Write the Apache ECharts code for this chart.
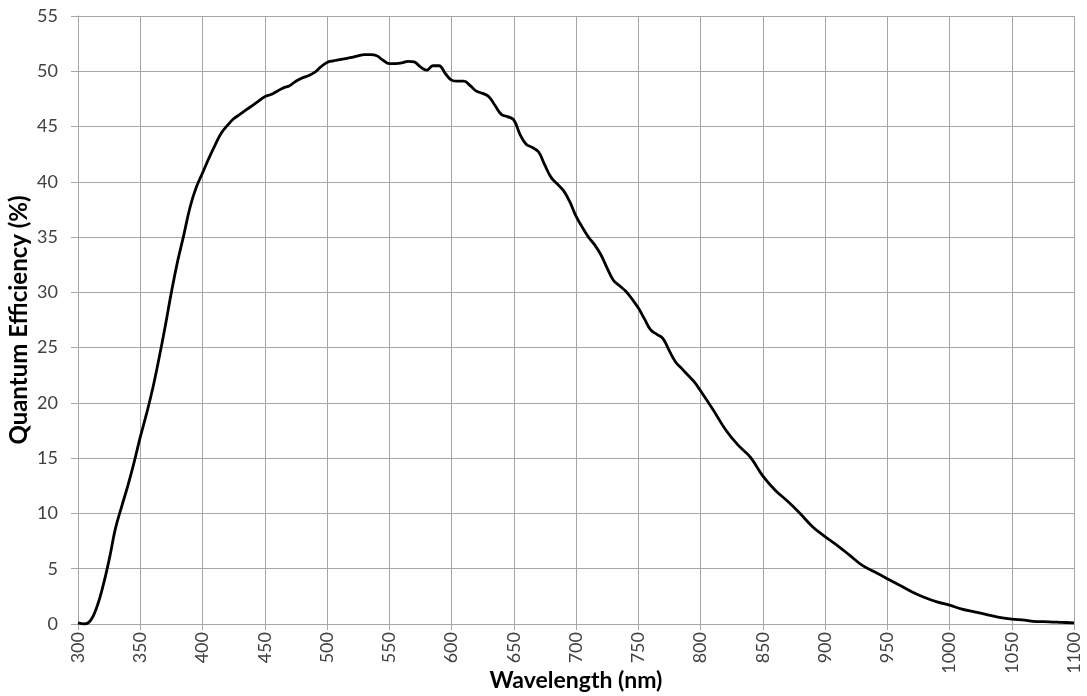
<!DOCTYPE html>
<html>
<head>
<meta charset="utf-8">
<script src="https://cdn.jsdelivr.net/npm/echarts@6/dist/echarts.min.js"></script>
<style>
  html, body { margin: 0; padding: 0; background: #fff; }
  #chart { width: 1087px; height: 696px; }
</style>
</head>
<body>
<div id="chart"></div>
<script>
// wavelength (nm) and quantum efficiency (%)
var wavelength = [
  300, 305, 310, 315, 320, 325, 330, 335, 340, 345, 350, 355, 360, 365, 370, 375, 380, 385, 390, 395,
  400, 405, 410, 415, 420, 425, 430, 435, 440, 445, 450, 455, 460, 465, 470, 475, 480, 485, 490, 495,
  500, 505, 510, 515, 520, 525, 530, 535, 540, 545, 550, 555, 560, 565, 570, 575, 580, 585, 590, 595,
  600, 605, 610, 615, 620, 625, 630, 635, 640, 645, 650, 655, 660, 665, 670, 675, 680, 685, 690, 695,
  700, 705, 710, 715, 720, 725, 730, 735, 740, 745, 750, 755, 760, 765, 770, 775, 780, 785, 790, 795,
  800, 810, 820, 830, 840, 850, 860, 870, 880, 890, 900, 910, 920, 930, 940, 950, 960, 970, 980, 990,
  1000, 1010, 1020, 1030, 1040, 1050, 1060, 1070, 1080, 1090, 1100
];
var efficiency = [
  0.1, 0.0, 0.3, 1.5, 3.4, 5.8, 8.6, 10.6, 12.5, 14.6, 16.9, 19.0, 21.3, 24.0, 26.9, 30.0, 32.8, 35.2, 37.7, 39.5,
  40.8, 42.1, 43.3, 44.4, 45.1, 45.7, 46.1, 46.5, 46.9, 47.3, 47.7, 47.9, 48.2, 48.5, 48.7, 49.1, 49.4, 49.6, 49.9, 50.4,
  50.8, 50.95, 51.05, 51.15, 51.25, 51.4, 51.5, 51.5, 51.4, 51.0, 50.7, 50.7, 50.75, 50.9, 50.85, 50.4, 50.1, 50.5, 50.5, 49.8,
  49.2, 49.1, 49.1, 48.7, 48.2, 48.0, 47.7, 46.9, 46.1, 45.9, 45.6, 44.3, 43.4, 43.1, 42.7, 41.5, 40.4, 39.8, 39.2, 38.2,
  36.9, 35.9, 35.0, 34.3, 33.4, 32.2, 31.1, 30.6, 30.1, 29.4, 28.6, 27.6, 26.6, 26.2, 25.8, 24.7, 23.7, 23.1, 22.5, 21.9,
  21.1, 19.4, 17.6, 16.2, 15.1, 13.4, 12.1, 11.1, 10.0, 8.8, 7.9, 7.1, 6.2, 5.3, 4.7, 4.1, 3.5, 2.9, 2.4, 2.0,
  1.7, 1.35, 1.1, 0.85, 0.6, 0.45, 0.35, 0.22, 0.2, 0.15, 0.1
];

var points = wavelength.map(function (w, i) { return [w, efficiency[i]]; });

var font = 'Lato, "Open Sans", sans-serif';
var gridColor = '#a6a6a6';

var chart = echarts.init(document.getElementById('chart'));
chart.setOption({
  animation: false,
  grid: { left: 78, right: 13, top: 16, bottom: 72, containLabel: false, outerBoundsMode: 'none' },
  xAxis: {
    type: 'value',
    min: 300,
    max: 1100,
    interval: 50,
    name: 'Wavelength (nm)',
    nameLocation: 'middle',
    nameGap: 45,
    nameMoveOverlap: false,
    nameTextStyle: { fontFamily: font, fontSize: 23, fontWeight: 'bold', color: '#000' },
    axisLine: { show: true, lineStyle: { color: gridColor, width: 1 } },
    axisTick: { show: true, length: 6, lineStyle: { color: gridColor } },
    axisLabel: {
      rotate: 90, fontFamily: font, fontSize: 18, color: '#404040', margin: 8,
      formatter: function (v) { return String(v); }
    },
    splitLine: { show: true, lineStyle: { color: gridColor, width: 1 } }
  },
  yAxis: {
    type: 'value',
    min: 0,
    max: 55,
    interval: 5,
    name: 'Quantum Efficiency (%)',
    nameLocation: 'middle',
    nameGap: 47,
    nameMoveOverlap: false,
    nameTextStyle: { fontFamily: font, fontSize: 24, fontWeight: 'bold', color: '#000' },
    axisLine: { show: true, lineStyle: { color: gridColor, width: 1 } },
    axisTick: { show: true, length: 7, lineStyle: { color: gridColor } },
    axisLabel: { fontFamily: font, fontSize: 18, color: '#404040', margin: 20 },
    splitLine: { show: true, lineStyle: { color: gridColor, width: 1 } }
  },
  series: [{
    type: 'line',
    data: points,
    smooth: 0.4,
    showSymbol: false,
    lineStyle: { color: '#000', width: 2.8 }
  }]
});
</script>
</body>
</html>
